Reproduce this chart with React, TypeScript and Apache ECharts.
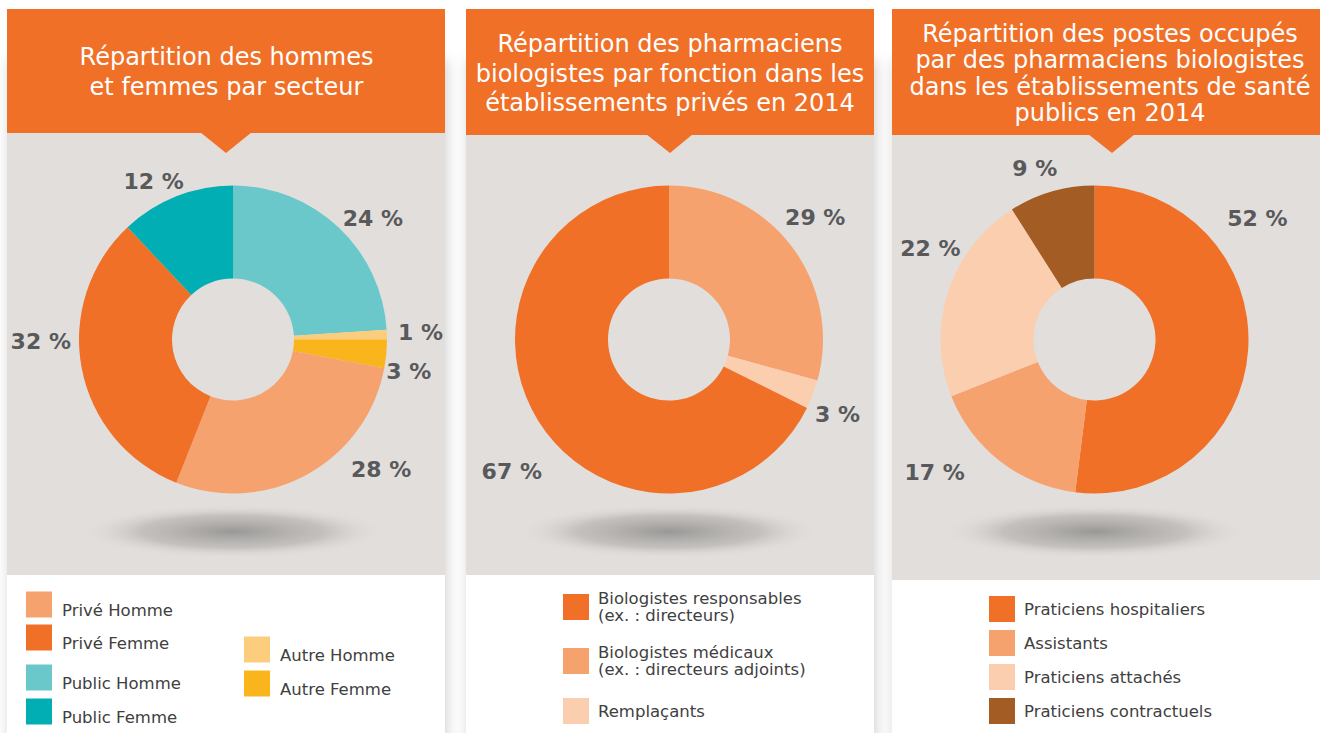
import React, { useEffect, useRef } from "react";
import * as echarts from "echarts";

// ---------- Data ----------
const titles = [
  "Répartition des hommes\net femmes par secteur",
  "Répartition des pharmaciens\nbiologistes par fonction dans les\nétablissements privés en 2014",
  "Répartition des postes occupés\npar des pharmaciens biologistes\ndans les établissements de santé\npublics en 2014",
];

// Chart 1 – clockwise from 12 o'clock
const sectorNames = ["Public Homme", "Autre Homme", "Autre Femme", "Privé Homme", "Privé Femme", "Public Femme"];
const sectorValues = [24, 1, 3, 28, 32, 12];
const sectorColors = ["#6AC8CB", "#FCCD7C", "#FAB41C", "#F5A26F", "#F07028", "#00AEB3"];
const sectorLegendA = ["Privé Homme", "Privé Femme"];
const sectorLegendB = ["Public Homme", "Public Femme"];
const sectorLegendC = ["Autre Homme", "Autre Femme"];

// Chart 2
const fonctionNames = ["Biologistes médicaux", "Remplaçants", "Biologistes responsables"];
const fonctionValues = [29, 3, 67];
const fonctionColors = ["#F5A26F", "#FBCEAF", "#F07028"];
const fonctionLegend = ["Biologistes responsables", "Biologistes médicaux", "Remplaçants"];
const fonctionLegendText: Record<string, string> = {
  "Biologistes responsables": "Biologistes responsables\n(ex. : directeurs)",
  "Biologistes médicaux": "Biologistes médicaux\n(ex. : directeurs adjoints)",
  "Remplaçants": "Remplaçants",
};

// Chart 3
const posteNames = ["Praticiens hospitaliers", "Assistants", "Praticiens attachés", "Praticiens contractuels"];
const posteValues = [52, 17, 22, 9];
const posteColors = ["#F07028", "#F5A26F", "#FBCEAF", "#A35C24"];
const posteLegend = ["Praticiens hospitaliers", "Assistants", "Praticiens attachés", "Praticiens contractuels"];

// ---------- Style / layout ----------
const ORANGE = "#F07028";
const GRAY = "#E2DEDB";
const LABEL = "#58595B";
const LEGEND_TXT = "#404040";
const FONT = "DejaVu Sans";

const panels = [
  { x: 7, w: 438, hdrEnd: 133, grayEnd: 575, tri: [200, 252, 226], cx: 233, titleY: 72, lh: 30 },
  { x: 466, w: 408, hdrEnd: 135, grayEnd: 575, tri: [646, 693, 670], cx: 669, titleY: 73.5, lh: 29.5 },
  { x: 892, w: 428, hdrEnd: 135, grayEnd: 580, tri: [1088, 1135, 1112], cx: 1094.5, titleY: 73.5, lh: 26.5 },
];
const titleCx = [226.5, 670, 1110];
const pieCy = 339.5;

// label nudges from the default "outside" position
const nudges = [
  [[-9, 0], [-6, -2], [-17, 16], [33, -15], [6, -29], [17, -4]],
  [[-21, -21], [-14, 16], [19, 44]],
  [[-38, -131], [-23, 2], [29, -40], [14, -12]],
];

function mkData(names: string[], values: number[], colors: string[]) {
  return names.map((n, i) => ({ name: n, value: values[i], itemStyle: { color: colors[i] } }));
}

function pieSeries(idx: number, data: any[]) {
  return {
    type: "pie",
    center: [panels[idx].cx, pieCy],
    radius: [61, 154],
    startAngle: 90,
    clockwise: true,
    avoidLabelOverlap: false,
    silent: true,
    emphasis: { disabled: true },
    label: {
      show: true,
      position: "outside",
      formatter: "{c} %",
      color: LABEL,
      fontSize: 22,
      fontWeight: "bold",
      fontFamily: FONT,
      distanceToLabelLine: 5,
    },
    labelLine: { show: false, length: 12, length2: 0 },
    labelLayout: (p: any) => {
      const n = nudges[idx][p.dataIndex] || [0, 0];
      return { dx: n[0], dy: n[1] };
    },
    data,
  };
}

function legendBase(extra: any, lineHeight: number, padLeft: number) {
  return {
    orient: "vertical",
    icon: "rect",
    itemWidth: 26,
    itemHeight: 26,
    padding: 0,
    height: 200,
    selectedMode: false,
    textStyle: {
      fontSize: 16.5,
      color: LEGEND_TXT,
      fontFamily: FONT,
      lineHeight,
      padding: [0, 0, 0, padLeft],
    },
    ...extra,
  };
}

export default function App() {
  const ref = useRef<HTMLDivElement>(null);
  useEffect(() => {
    document.body.style.margin = "0";
    const chart = echarts.init(ref.current!, null, { renderer: "svg" });

    const graphics: any[] = [];
    panels.forEach((p, i) => {
      graphics.push({
        type: "rect",
        z: -20,
        shape: { x: p.x, y: 60, width: p.w, height: 733 - 60 + 20 },
        style: { fill: "#ffffff", shadowBlur: 14, shadowColor: "rgba(0,0,0,0.18)", shadowOffsetX: 2 },
      });
      graphics.push({
        type: "rect",
        z: -19,
        shape: { x: p.x, y: p.hdrEnd, width: p.w, height: p.grayEnd - p.hdrEnd },
        style: { fill: GRAY },
      });
      graphics.push({
        type: "rect",
        z: -18,
        shape: { x: p.x, y: 9, width: p.w, height: p.hdrEnd - 9 },
        style: { fill: ORANGE },
      });
      graphics.push({
        type: "polygon",
        z: -18,
        shape: { points: [[p.tri[0], p.hdrEnd - 1], [p.tri[1], p.hdrEnd - 1], [p.tri[2], 153]] },
        style: { fill: ORANGE },
      });
      graphics.push({
        type: "text",
        z: 5,
        x: titleCx[i],
        y: p.titleY,
        style: {
          text: titles[i],
          fill: "#ffffff",
          fontSize: 24,
          fontFamily: FONT,
          lineHeight: p.lh,
          align: "center",
          verticalAlign: "middle",
        },
      });
      graphics.push({
        type: "ellipse",
        z: -15,
        shape: { cx: p.cx, cy: 531.5, rx: 153, ry: 27 },
        style: {
          fill: new echarts.graphic.RadialGradient(0.5, 0.5, 0.5, [
            { offset: 0, color: "rgba(150,148,146,0.95)" },
            { offset: 0.6, color: "rgba(175,173,171,0.6)" },
            { offset: 1, color: "rgba(226,222,219,0)" },
          ]),
        },
      });
    });

    const shifted = (n: string) => "\n" + n;

    chart.setOption({
      animation: false,
      graphic: graphics,
      legend: [
        legendBase({ data: sectorLegendA, left: 26, top: 590, itemGap: 4, formatter: shifted }, 12, 5),
        legendBase({ data: sectorLegendB, left: 26, top: 663, itemGap: 5, formatter: shifted }, 12, 5),
        legendBase({ data: sectorLegendC, left: 244, top: 635, itemGap: 5, formatter: shifted }, 12, 5),
        legendBase(
          { data: fonctionLegend, left: 563, top: 590, itemGap: 20, formatter: (n: string) => fonctionLegendText[n] || n },
          17,
          4
        ),
        legendBase({ data: posteLegend, left: 989, top: 596, itemGap: 8 }, 17, 4),
      ],
      series: [
        pieSeries(0, mkData(sectorNames, sectorValues, sectorColors)),
        pieSeries(1, mkData(fonctionNames, fonctionValues, fonctionColors)),
        pieSeries(2, mkData(posteNames, posteValues, posteColors)),
      ],
    });
    return () => chart.dispose();
  }, []);
  return <div ref={ref} style={{ width: 1320, height: 733 }} />;
}
